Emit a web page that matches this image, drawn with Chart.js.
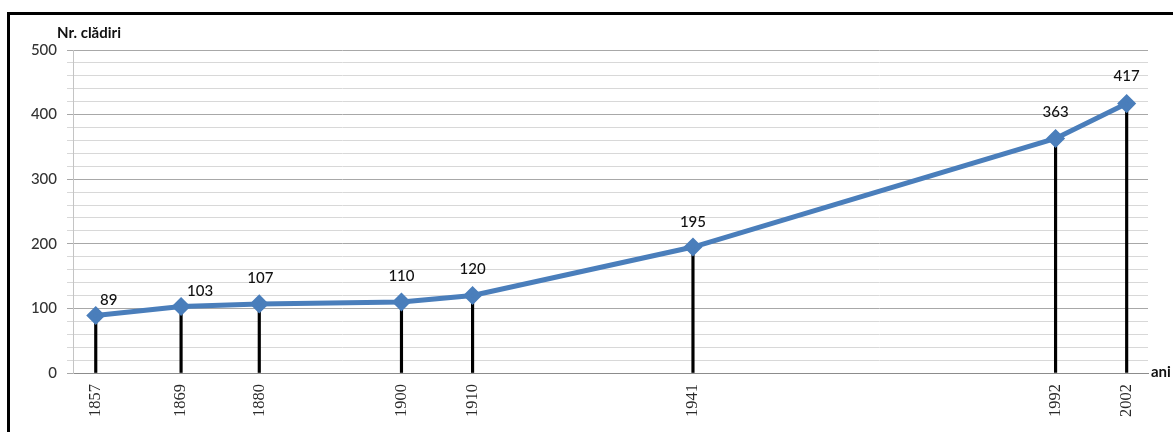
<!DOCTYPE html>
<html>
<head>
<meta charset="utf-8">
<script src="https://cdn.jsdelivr.net/npm/chart.js@4/dist/chart.umd.min.js"></script>
<style>
  html, body { margin: 0; padding: 0; background: #fff; overflow: hidden; }
  #wrap { position: relative; width: 1173px; height: 432px; }
  #frame { position: absolute; left: 7px; top: 12px; right: -10px; bottom: -10px;
           border-top: 3px solid #000; border-left: 3px solid #000; pointer-events: none; }
  canvas { position: absolute; left: 0; top: 0; }
</style>
</head>
<body>
<div id="wrap">
  <canvas id="c" width="1173" height="432"></canvas>
  <div id="frame"></div>
</div>
<script>
// Census years and the number of buildings recorded in each
const years = [1857, 1869, 1880, 1900, 1910, 1941, 1992, 2002];
const buildings = [89, 103, 107, 110, 120, 195, 363, 417];
const yAxisTitle = 'Nr. clădiri';
const xAxisTitle = 'ani';

// Per-label nudges (dx, dy) of the value labels relative to their point
const labelShift = [[13, -15], [19, -15], [1, -26], [0, -26], [0, -26], [0, -25], [0, -26], [0, -27]];

const points = years.map((yr, i) => ({ x: yr, y: buildings[i] }));
const FONT = 'Lato, "Open Sans", sans-serif';

const valueLabels = {
  id: 'valueLabels',
  afterDatasetsDraw(chart) {
    const meta = chart.getDatasetMeta(0);
    const ctx = chart.ctx;
    ctx.save();
    ctx.font = '500 15px ' + FONT;
    ctx.fillStyle = '#111';
    ctx.textAlign = 'center';
    ctx.textBaseline = 'middle';
    meta.data.forEach((el, i) => {
      const s = labelShift[i] || [0, -26];
      ctx.fillText(String(buildings[i]), el.x + s[0], el.y + s[1]);
    });
    ctx.restore();
  }
};

const axisCaptions = {
  id: 'axisCaptions',
  afterDraw(chart) {
    const ctx = chart.ctx;
    const area = chart.chartArea;
    ctx.save();
    ctx.font = 'bold 15px ' + FONT;
    ctx.fillStyle = '#111';
    ctx.textBaseline = 'middle';
    ctx.textAlign = 'left';
    ctx.fillText(yAxisTitle, 57, 33);
    ctx.fillText(xAxisTitle, area.right + 3, area.bottom - 1);
    ctx.restore();
  }
};

new Chart(document.getElementById('c'), {
  data: {
    datasets: [
      {
        type: 'line',
        data: points,
        borderColor: '#4a7ebb',
        borderWidth: 5,
        pointStyle: 'rectRot',
        pointRadius: 6,
        pointBackgroundColor: '#4a7ebb',
        pointBorderColor: '#4a7ebb',
        tension: 0,
        order: 0
      },
      {
        type: 'bar',
        data: points,
        backgroundColor: '#000',
        barThickness: 2.5,
        order: 1
      }
    ]
  },
  options: {
    responsive: false,
    animation: false,
    layout: { padding: { left: 0, right: 25, top: 50, bottom: 0 } },
    plugins: { legend: { display: false }, tooltip: { enabled: false } },
    scales: {
      x: {
        type: 'linear',
        offset: false,
        min: 1853.8,
        max: 2005,
        afterBuildTicks(scale) { scale.ticks = years.map(v => ({ value: v })); },
        afterFit(scale) { scale.height = 59; },
        grid: { display: false, drawTicks: false },
        border: { display: true, color: '#8c8c8c', width: 1 },
        ticks: {
          autoSkip: false,
          minRotation: 90,
          maxRotation: 90,
          padding: 11,
          color: '#2a2a2a',
          font: { family: '"Liberation Serif", "Times New Roman", serif', size: 16.5 },
          callback: v => String(v)
        }
      },
      y: {
        min: 0,
        max: 500,
        afterFit(scale) { scale.width = 73; },
        grid: {
          color: c => (c.tick && c.tick.value % 100 === 0) ? '#a8a8a8' : '#d8d8d8',
          tickColor: c => (c.tick && c.tick.value % 100 === 0) ? '#a8a8a8' : '#d8d8d8',
          tickLength: 6,
          lineWidth: 1
        },
        border: { display: true, color: '#c4c4c4', width: 1 },
        ticks: {
          stepSize: 20,
          autoSkip: false,
          padding: 10,
          color: '#333',
          font: { family: FONT, size: 15, weight: '500' },
          callback: v => (v % 100 === 0 ? String(v) : '')
        }
      }
    }
  },
  plugins: [valueLabels, axisCaptions]
});
</script>
</body>
</html>
